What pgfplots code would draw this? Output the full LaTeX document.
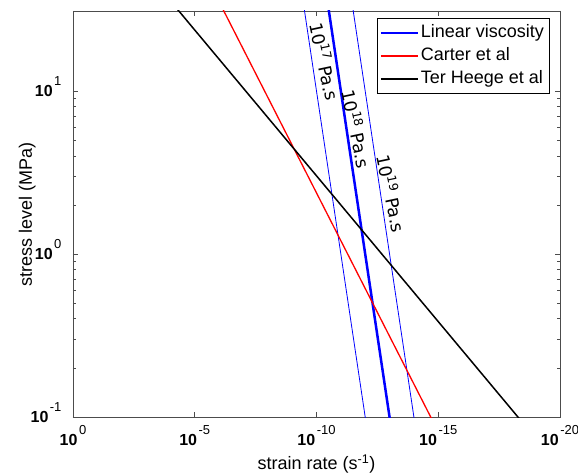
\documentclass[border=0pt]{standalone}
\usepackage{pgfplots}
\pgfplotsset{compat=1.18}
\usepackage{fontspec}
\setmainfont{Liberation Sans}
\newfontfamily\dejavu{DejaVu Sans}
\newcommand{\tl}[1]{\textbf{10}\kern1.5pt\raisebox{11pt}{\fontsize{13}{13}\selectfont #1}}
\definecolor{lred}{RGB}{255,0,0}
\definecolor{lblue}{RGB}{0,0,255}
\begin{document}
\begin{tikzpicture}
\begin{axis}[
  name=ax,
  scale only axis, width=487pt, height=406pt,
  xmode=log, ymode=log, x dir=reverse,
  xmin=1e-20, xmax=1, ymin=0.1, ymax=31,
  xtick={1,1e-5,1e-10,1e-15,1e-20},
  xticklabels={\tl{0},\tl{-5},\tl{-10},\tl{-15},\tl{-20}},
  ytick={0.1,1,10},
  yticklabels={\tl{-1},\tl{0},\tl{1}},
  xminorticks=false,
  axis line style={draw=black!70, line width=0.8pt},
  every tick/.style={black!70, line width=0.8pt},
  major tick length=5pt, minor tick length=3pt,
  tick label style={font=\fontsize{16}{16}\selectfont},
  xticklabel style={anchor=base, yshift=-28pt},
  yticklabel style={anchor=base east, xshift=-8pt, yshift=-5.8pt},
  xlabel={strain rate (s\textsuperscript{-1})},
  ylabel={stress level (MPa)},
  xlabel style={at={(axis description cs:0.5,-0.1305)}, anchor=base, font=\fontsize{18}{18}\selectfont},
  ylabel style={at={(axis description cs:-0.0842,0.5)}, anchor=base, font=\fontsize{18}{18}\selectfont},
  legend style={at={(0.9775,0.9828)}, anchor=north east, fill=white,
    font=\fontsize{18}{18}\selectfont, inner xsep=3pt, inner ysep=6pt, row sep=6pt,
    nodes={inner xsep=2pt, inner ysep=0pt, text height=13pt, text depth=4pt}},
  legend cell align=left,
]
\addplot[draw=lblue, line width=0.8pt, forget plot] coordinates {(1e-9,100) (1e-13,0.01)};
\addplot[draw=lblue, line width=0.8pt, forget plot] coordinates {(1e-11,100) (1e-15,0.01)};
\addplot[draw=lblue, line width=2.5pt, forget plot] coordinates {(1e-10,100) (1e-14,0.01)};
\addplot[draw=lred, line width=1.3pt, forget plot] coordinates {(1.5e-6,39.8) (9.3e-16,0.0794)};
\addplot[draw=black, line width=1.5pt, forget plot] coordinates {(1.82e-4,39.81) (1.47e-19,0.0794)};
\addlegendimage{legend image code/.code={\draw[draw=lblue, line width=2pt] (0pt,0pt) -- (37pt,0pt);}}
\addlegendentry{Linear viscosity}
\addlegendimage{legend image code/.code={\draw[draw=lred, line width=2pt] (0pt,0pt) -- (37pt,0pt);}}
\addlegendentry{Carter et al}
\addlegendimage{legend image code/.code={\draw[draw=black, line width=2pt] (0pt,0pt) -- (37pt,0pt);}}
\addlegendentry{Ter Heege et al}
\node[rotate=-78, font=\dejavu\fontsize{17.5}{17.5}\selectfont] at (axis cs:4.47e-11,15.2) {10\textsuperscript{17} Pa.s};
\node[rotate=-78, font=\dejavu\fontsize{17.5}{17.5}\selectfont] at (axis cs:2.24e-12,5.87) {10\textsuperscript{18} Pa.s};
\node[rotate=-78, font=\dejavu\fontsize{17.5}{17.5}\selectfont] at (axis cs:8.1e-14,2.35) {10\textsuperscript{19} Pa.s};
\end{axis}
\pgfresetboundingbox
\path[use as bounding box] ([shift={(-73pt,-57pt)}]ax.south west) rectangle ([shift={(18pt,11pt)}]ax.north east);
\end{tikzpicture}
\end{document}
